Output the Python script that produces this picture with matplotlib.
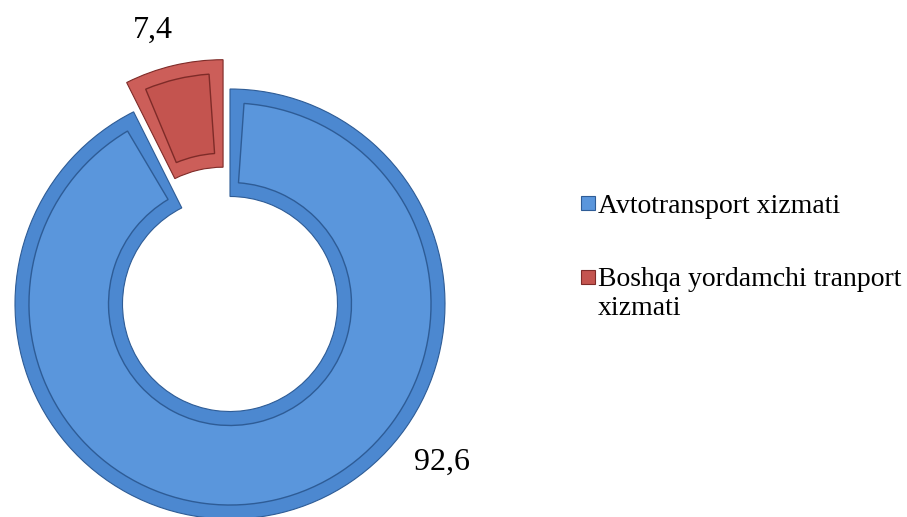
import matplotlib
matplotlib.use("Agg")
import matplotlib.pyplot as plt
from matplotlib.patches import Rectangle

# ---- data ----
categories = ["Avtotransport xizmati", "Boshqa yordamchi tranport\nxizmati"]
values = [92.6, 7.4]
value_labels = ["92,6", "7,4"]

# ---- style ----
face_colors = ["#5A96DC", "#C4544F"]
rim_colors = ["#4C88D0", "#CC5E59"]
line_colors = ["#2E5C96", "#7E2B28"]
explode = [0.0, 0.14]
W, H, DPI = 907, 517, 100
plt.rcParams["font.family"] = ["Liberation Serif", "DejaVu Serif"]

fig = plt.figure(figsize=(W / DPI, H / DPI), dpi=DPI)
R_px, cx_px, cy_px = 215, 230, 213  # cy from bottom
L = 1.3
ax = fig.add_axes([(cx_px - L * R_px) / W, (cy_px - L * R_px) / H,
                   2 * L * R_px / W, 2 * L * R_px / H])

# base ring (rim)
w1, _ = ax.pie(values, colors=rim_colors, startangle=90, counterclock=False,
               explode=explode, radius=1.0,
               wedgeprops=dict(width=0.5, edgecolor="white", linewidth=1.2))
for w, lc in zip(w1, line_colors):
    w.set_edgecolor(lc)
    w.set_linewidth(0.8)

# inner face (bevel inset)
w2, _ = ax.pie(values, colors=face_colors, startangle=90, counterclock=False,
               explode=explode, radius=0.935,
               wedgeprops=dict(width=0.37, linewidth=1.0))
for wo, wi, lc in zip(w1, w2, line_colors):
    d = 4.0
    wi.set_theta1(wo.theta1 + d)
    wi.set_theta2(wo.theta2 - d)
    wi.set_center(wo.center)
    wi.set_edgecolor(lc)

ax.set_xlim(-L, L)
ax.set_ylim(-L, L)
ax.set_aspect("equal")
ax.axis("off")

# value labels
label_pos = [(0.986, -0.735), (-0.358, 1.274)]
for txt, (x, y) in zip(value_labels, label_pos):
    ax.text(x, y, txt, ha="center", va="center", fontsize=23, color="black")

# legend (manual, marker aligned with first text line)
leg_rows = [203, 277]      # marker centres (px from top)
leg_base = [213, 286]      # first-line baselines (px from top)
line_step = 29
msz = 14
for cat, fc, lc, ym, yb in zip(categories, face_colors, line_colors, leg_rows, leg_base):
    fig.patches.append(Rectangle((581 / W, (H - ym - msz / 2) / H), msz / W, msz / H,
                                 facecolor=fc, edgecolor=lc, linewidth=0.8,
                                 transform=fig.transFigure, figure=fig))
    for i, line in enumerate(cat.split("\n")):
        fig.text(598 / W, (H - yb - i * line_step) / H, line, ha="left",
                 va="baseline", fontsize=20, color="black")

fig.savefig("out.png", dpi=DPI, facecolor="white")
